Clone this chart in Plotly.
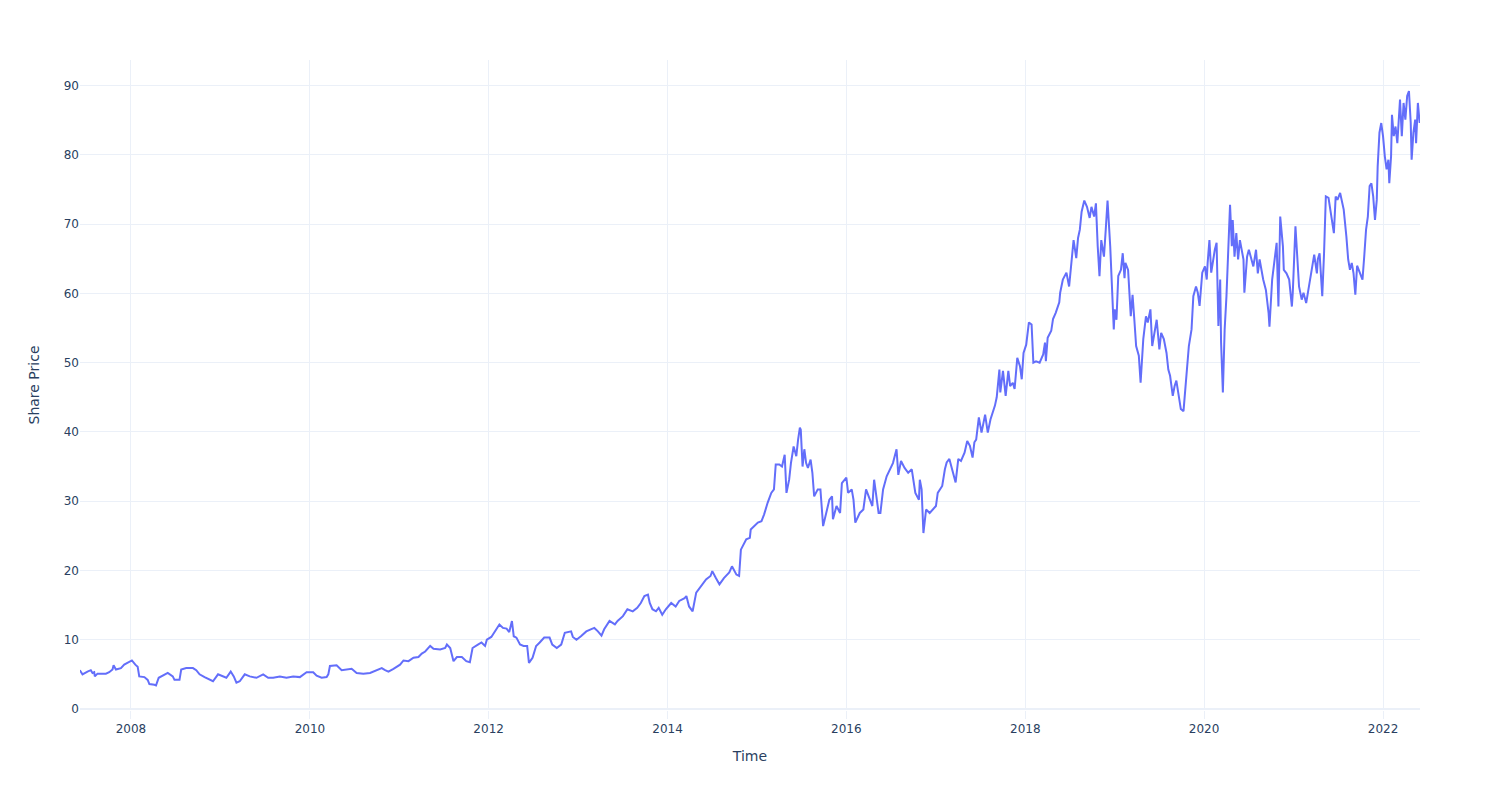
import datetime as dt

import plotly.graph_objects as go

# Decimal-year positions
years = [
    2007.428, 2007.458, 2007.514, 2007.551, 2007.570, 2007.589, 2007.596, 2007.626, 2007.720, 2007.757,
    2007.794, 2007.806, 2007.832, 2007.888, 2007.925, 2007.963, 2008.011, 2008.049, 2008.075, 2008.093,
    2008.150, 2008.187, 2008.206, 2008.262, 2008.280, 2008.310, 2008.355, 2008.411, 2008.467, 2008.486,
    2008.542, 2008.561, 2008.617, 2008.692, 2008.729, 2008.766, 2008.822, 2008.879, 2008.916, 2008.972,
    2009.028, 2009.065, 2009.114, 2009.148, 2009.178, 2009.215, 2009.271, 2009.327, 2009.402, 2009.477,
    2009.533, 2009.589, 2009.664, 2009.738, 2009.813, 2009.888, 2009.963, 2010.037, 2010.075, 2010.131,
    2010.187, 2010.206, 2010.224, 2010.299, 2010.355, 2010.430, 2010.467, 2010.523, 2010.598, 2010.673,
    2010.748, 2010.804, 2010.841, 2010.879, 2010.935, 2011.009, 2011.047, 2011.103, 2011.159, 2011.215,
    2011.252, 2011.290, 2011.346, 2011.383, 2011.458, 2011.514, 2011.533, 2011.570, 2011.607, 2011.645,
    2011.70, 2011.75, 2011.79, 2011.82, 2011.88, 2011.92, 2011.96, 2011.98, 2012.03, 2012.07,
    2012.12, 2012.16, 2012.20, 2012.23, 2012.26, 2012.28, 2012.31, 2012.35, 2012.39, 2012.43,
    2012.45, 2012.49, 2012.53, 2012.57, 2012.62, 2012.68, 2012.71, 2012.76, 2012.81, 2012.85,
    2012.92, 2012.94, 2012.98, 2013.03, 2013.09, 2013.14, 2013.18, 2013.22, 2013.26, 2013.29,
    2013.35, 2013.41, 2013.44, 2013.50, 2013.55, 2013.61, 2013.66, 2013.70, 2013.74, 2013.78,
    2013.80, 2013.83, 2013.87, 2013.90, 2013.94, 2013.98, 2014.04, 2014.09, 2014.13, 2014.19,
    2014.21, 2014.24, 2014.28, 2014.32, 2014.37, 2014.43, 2014.48, 2014.50, 2014.54, 2014.58,
    2014.63, 2014.69, 2014.72, 2014.77, 2014.80, 2014.82, 2014.88, 2014.92, 2014.93, 2014.97,
    2015.01, 2015.05, 2015.08, 2015.12, 2015.16, 2015.19, 2015.21, 2015.25, 2015.28, 2015.31,
    2015.33, 2015.36, 2015.38, 2015.41, 2015.44, 2015.46, 2015.48, 2015.49, 2015.51, 2015.53,
    2015.55, 2015.57, 2015.60, 2015.62, 2015.64, 2015.68, 2015.71, 2015.74, 2015.78, 2015.81,
    2015.84, 2015.85, 2015.89, 2015.93, 2015.95, 2016.00, 2016.02, 2016.06, 2016.08, 2016.10,
    2016.15, 2016.19, 2016.22, 2016.26, 2016.29, 2016.31, 2016.36, 2016.38, 2016.41, 2016.45,
    2016.49, 2016.52, 2016.56, 2016.58, 2016.61, 2016.65, 2016.69, 2016.73, 2016.77, 2016.81,
    2016.82, 2016.84, 2016.86, 2016.89, 2016.93, 2016.97, 2017.00, 2017.02, 2017.07, 2017.10,
    2017.12, 2017.15, 2017.19, 2017.22, 2017.25, 2017.28, 2017.32, 2017.35, 2017.38, 2017.41,
    2017.43, 2017.45, 2017.48, 2017.51, 2017.55, 2017.58, 2017.61, 2017.66, 2017.68, 2017.71,
    2017.72, 2017.75, 2017.78, 2017.81, 2017.83, 2017.86, 2017.88, 2017.91, 2017.94, 2017.96,
    2017.98, 2018.01, 2018.04, 2018.07, 2018.09, 2018.12, 2018.16, 2018.20, 2018.22, 2018.23,
    2018.25, 2018.29, 2018.31, 2018.34, 2018.38, 2018.39, 2018.42, 2018.46, 2018.49, 2018.52,
    2018.54, 2018.57, 2018.59, 2018.61, 2018.63, 2018.66, 2018.69, 2018.72, 2018.74, 2018.77,
    2018.79, 2018.81, 2018.83, 2018.85, 2018.88, 2018.90, 2018.92, 2018.95, 2018.98, 2018.99,
    2019.00, 2019.02, 2019.04, 2019.07, 2019.09, 2019.11, 2019.12, 2019.15, 2019.18, 2019.20,
    2019.22, 2019.24, 2019.27, 2019.29, 2019.32, 2019.35, 2019.37, 2019.40, 2019.42, 2019.45,
    2019.47, 2019.50, 2019.52, 2019.55, 2019.58, 2019.60, 2019.62, 2019.65, 2019.67, 2019.69,
    2019.72, 2019.74, 2019.77, 2019.78, 2019.80, 2019.83, 2019.86, 2019.88, 2019.91, 2019.93,
    2019.95, 2019.98, 2020.01, 2020.03, 2020.04, 2020.06, 2020.08, 2020.10, 2020.12, 2020.14,
    2020.16, 2020.18, 2020.19, 2020.21, 2020.23, 2020.25, 2020.27, 2020.29, 2020.31, 2020.32,
    2020.34, 2020.36, 2020.38, 2020.40, 2020.44, 2020.45, 2020.48, 2020.50, 2020.55, 2020.58,
    2020.60, 2020.62, 2020.66, 2020.69, 2020.72, 2020.73, 2020.76, 2020.79, 2020.81, 2020.83,
    2020.85, 2020.88, 2020.89, 2020.92, 2020.95, 2020.98, 2020.99, 2021.02, 2021.04, 2021.06,
    2021.09, 2021.11, 2021.14, 2021.17, 2021.20, 2021.23, 2021.26, 2021.27, 2021.29, 2021.32,
    2021.34, 2021.36, 2021.39, 2021.41, 2021.43, 2021.45, 2021.47, 2021.49, 2021.52, 2021.54,
    2021.56, 2021.59, 2021.61, 2021.63, 2021.65, 2021.67, 2021.69, 2021.71, 2021.74, 2021.77,
    2021.79, 2021.81, 2021.83, 2021.85, 2021.87, 2021.89, 2021.91, 2021.93, 2021.94, 2021.96,
    2021.98, 2022.00, 2022.02, 2022.04, 2022.06, 2022.07, 2022.09, 2022.10, 2022.12, 2022.14,
    2022.16, 2022.18, 2022.19, 2022.21, 2022.23, 2022.25, 2022.27, 2022.29, 2022.31, 2022.32,
    2022.34, 2022.36, 2022.37, 2022.39, 2022.41,
]

prices = [
    5.6, 5.0, 5.4, 5.6, 5.2, 5.3, 4.7, 5.1, 5.1, 5.3,
    5.7, 6.3, 5.7, 5.9, 6.4, 6.65, 7.0, 6.4, 6.1, 4.7,
    4.6, 4.2, 3.6, 3.5, 3.4, 4.5, 4.8, 5.2, 4.7, 4.2,
    4.2, 5.7, 5.9, 5.9, 5.6, 5.0, 4.6, 4.2, 4.0, 5.0,
    4.7, 4.5, 5.4, 4.7, 3.8, 4.0, 5.0, 4.7, 4.5, 5.0,
    4.5, 4.5, 4.7, 4.5, 4.7, 4.6, 5.3, 5.3, 4.8, 4.5,
    4.6, 5.0, 6.2, 6.3, 5.6, 5.8, 5.8, 5.2, 5.1, 5.2,
    5.6, 5.9, 5.6, 5.4, 5.8, 6.4, 7.0, 6.9, 7.4, 7.5,
    8.0, 8.3, 9.1, 8.7, 8.6, 8.8, 9.3, 8.8, 6.9, 7.5,
    7.5, 6.9, 6.75, 8.8, 9.3, 9.6, 9.1, 10.0, 10.4, 11.2,
    12.2, 11.7, 11.6, 11.1, 12.7, 10.5, 10.3, 9.3, 9.1, 9.1,
    6.65, 7.4, 9.1, 9.6, 10.3, 10.3, 9.3, 8.8, 9.3, 11.0,
    11.2, 10.4, 10.0, 10.5, 11.2, 11.5, 11.7, 11.2, 10.6, 11.5,
    12.7, 12.2, 12.7, 13.4, 14.4, 14.1, 14.6, 15.3, 16.3, 16.5,
    15.3, 14.4, 14.1, 14.6, 13.6, 14.4, 15.3, 14.8, 15.6, 16.0,
    16.3, 14.8, 14.1, 16.8, 17.7, 18.7, 19.2, 19.9, 18.9, 18.0,
    18.9, 19.7, 20.6, 19.4, 19.2, 23.0, 24.5, 24.7, 25.9, 26.4,
    26.9, 27.1, 28.1, 29.8, 31.2, 31.7, 35.3, 35.3, 35.0, 36.7,
    31.2, 33.1, 35.5, 37.9, 36.5, 38.9, 40.6, 40.3, 35.0, 37.5,
    35.5, 34.8, 36.0, 34.1, 30.7, 31.7, 31.7, 26.4, 28.8, 30.2,
    30.7, 27.4, 29.3, 28.3, 32.6, 33.4, 31.2, 31.7, 30.2, 26.9,
    28.3, 28.8, 31.7, 30.2, 29.3, 33.1, 28.3, 28.3, 31.7, 33.6,
    34.6, 35.5, 37.5, 33.8, 35.8, 34.8, 34.1, 34.6, 31.2, 30.2,
    33.1, 31.7, 25.4, 28.8, 28.3, 28.8, 29.3, 31.2, 32.2, 34.6,
    35.6, 36.1, 34.1, 32.7, 36.1, 35.8, 37.0, 38.7, 38.0, 36.3,
    38.5, 38.9, 42.1, 39.9, 42.5, 39.9, 41.8, 43.8, 45.0, 49.0,
    45.7, 48.8, 45.2, 48.8, 46.6, 47.1, 46.2, 50.7, 49.5, 47.6,
    51.4, 52.6, 55.8, 55.5, 50.0, 50.2, 50.0, 51.2, 52.9, 50.2,
    53.6, 54.6, 56.3, 57.2, 58.7, 60.1, 62.0, 63.0, 61.0, 64.9,
    67.7, 65.1, 68.0, 69.2, 71.8, 73.4, 72.5, 70.9, 72.5, 71.1,
    73.0, 66.8, 62.5, 67.7, 65.3, 69.2, 73.4, 66.8, 57.2, 54.8,
    57.7, 56.2, 62.5, 63.4, 65.8, 62.2, 64.4, 63.4, 56.7, 59.8,
    56.2, 52.4, 51.0, 47.1, 53.4, 56.7, 55.8, 57.7, 52.4, 54.8,
    56.2, 51.9, 54.3, 53.4, 51.4, 49.0, 48.1, 45.2, 46.6, 47.4,
    45.2, 43.3, 43.0, 44.7, 48.6, 52.4, 54.8, 59.6, 61.0, 60.1,
    58.2, 63.0, 63.9, 62.0, 64.4, 67.7, 63.0, 64.9, 66.3, 67.3,
    55.3, 62.0, 52.9, 45.7, 54.8, 59.6, 65.8, 72.8, 66.8, 70.6,
    65.3, 68.7, 64.9, 67.7, 64.9, 60.1, 65.3, 66.3, 63.9, 66.3,
    62.9, 64.9, 62.0, 60.5, 57.2, 55.2, 62.0, 65.8, 67.3, 58.1,
    71.1, 66.8, 63.4, 62.9, 62.0, 58.1, 60.1, 69.7, 64.9, 61.0,
    59.1, 60.1, 58.6, 61.0, 62.9, 65.6, 62.9, 64.9, 65.8, 59.6,
    65.8, 74.0, 73.8, 72.1, 70.2, 68.7, 74.0, 73.5, 74.5, 73.1,
    72.1, 68.2, 64.9, 63.4, 64.4, 62.9, 59.8, 64.0, 62.9, 62.0,
    65.4, 69.2, 71.1, 75.5, 75.9, 74.0, 70.6, 73.5, 78.3, 83.2,
    84.6, 82.7, 79.8, 77.9, 79.3, 75.9, 79.8, 85.8, 82.7, 84.1,
    81.7, 85.1, 88.0, 82.7, 87.5, 85.1, 88.5, 89.2, 84.6, 79.3,
    83.2, 85.1, 81.7, 87.5, 84.6,
]


def to_date(y):
    # decimal year -> datetime
    year = int(y)
    start = dt.datetime(year, 1, 1)
    days = (dt.datetime(year + 1, 1, 1) - start).days
    return start + dt.timedelta(days=(y - year) * days)


dates = [to_date(y) for y in years]

fig = go.Figure()
fig.add_trace(
    go.Scatter(
        x=dates,
        y=prices,
        mode="lines",
        line=dict(color="#636efa", width=2),
    )
)

# page body has an 8px margin, so the figure is sized to fit inside the window
fig.update_layout(
    template="plotly_white",
    width=1484,
    height=784,
    margin=dict(l=72, r=72, t=52, b=82),
    font=dict(family="DejaVu Sans", size=12, color="#2a3f5f"),
    showlegend=False,
    xaxis=dict(
        title=dict(text="Time", font=dict(size=14), standoff=15),
        range=["2007-06-07", "2022-06-01"],
        ticks="outside",
        ticklen=8,
        tickcolor="#EBF0F8",
    ),
    yaxis=dict(
        title=dict(text="Share Price", font=dict(size=14), standoff=20),
        range=[-0.15, 93.7],
        dtick=10,
    ),
)

fig.write_html("out.html")
